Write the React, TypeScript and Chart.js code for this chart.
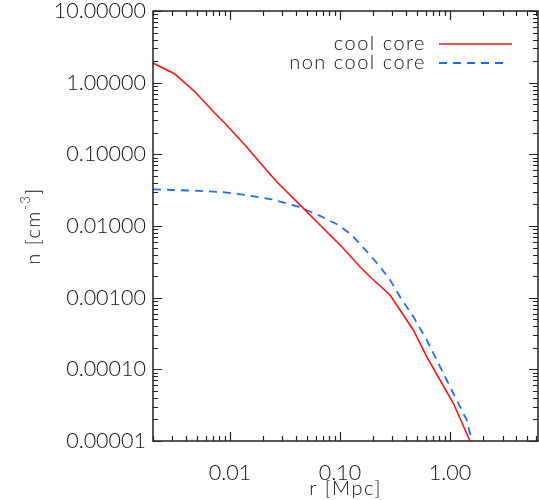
import React, { useEffect, useRef } from "react";
import { Chart, registerables } from "chart.js";

Chart.register(...registerables);

// Density profiles n(r) for the two cluster types
const radiusCool = [0.002, 0.00316, 0.00481, 0.00731, 0.00901, 0.0137, 0.0169, 0.0266, 0.0339, 0.0449, 0.0682, 0.107, 0.152, 0.1875, 0.285, 0.351, 0.464, 0.614, 0.811, 1.072, 1.52];
const densityCool = [1.88, 1.32, 0.748, 0.374, 0.271, 0.135, 0.0927, 0.0415, 0.0286, 0.0186, 0.00977, 0.00489, 0.0027, 0.00196, 0.00109, 0.000673, 0.000354, 0.00015, 0.000071, 0.0000336, 0.00001];

const radiusNonCool = [0.002, 0.00481, 0.00841, 0.0137, 0.0239, 0.0418, 0.0635, 0.0967, 0.1277, 0.1875, 0.231, 0.285, 0.351, 0.464, 0.614, 0.811, 1.072, 1.419, 1.58];
const densityNonCool = [0.0325, 0.0311, 0.0298, 0.0271, 0.0236, 0.0186, 0.01425, 0.01033, 0.0075, 0.00394, 0.0027, 0.00177, 0.00103, 0.000543, 0.000257, 0.000109, 0.0000463, 0.0000196, 0.00001];

const seriesLabels = ["cool core", "non cool core"];

const xTickValues = [0.01, 0.1, 1];
const xTickLabels = ["0.01", "0.10", "1.00"];
const yTickValues = [10, 1, 0.1, 0.01, 0.001, 0.0001, 0.00001];
const yTickLabels = ["10.00000", "1.00000", "0.10000", "0.01000", "0.00100", "0.00010", "0.00001"];

const xTitle = "r [Mpc]";
const yTitleMain = "n [cm";
const yTitleSup = "-3";
const yTitleEnd = "]";

const FONT = 'Lato, "Liberation Sans", sans-serif';
const WEIGHT = 300;
const TEXT = "#111";
const AXIS = "#222";

// Closed frame with inward major/minor ticks on all four sides, plus titles and legend
const framePlugin = {
  id: "frame",
  afterDatasetsDraw(chart: any) {
    const ctx: CanvasRenderingContext2D = chart.ctx;
    const { left, right, top, bottom } = chart.chartArea;
    const xs = chart.scales.x;
    const ys = chart.scales.y;
    ctx.save();
    ctx.strokeStyle = AXIS;
    ctx.lineWidth = 1.5;
    ctx.strokeRect(left, top, right - left, bottom - top);
    ctx.lineWidth = 1.2;
    const major = 9;
    const minor = 5;
    const eachLogTick = (min: number, max: number, fn: (v: number, isMajor: boolean) => void) => {
      for (let d = Math.floor(Math.log10(min)) - 1; d <= Math.ceil(Math.log10(max)); d++) {
        for (let k = 1; k <= 9; k++) {
          const v = k * Math.pow(10, d);
          if (v >= min * 0.999 && v <= max * 1.001) fn(v, k === 1);
        }
      }
    };
    ctx.beginPath();
    eachLogTick(xs.min, xs.max, (v, isMajor) => {
      const px = Math.round(xs.getPixelForValue(v)) + 0.5;
      const len = isMajor ? major : minor;
      ctx.moveTo(px, bottom);
      ctx.lineTo(px, bottom - len);
      ctx.moveTo(px, top);
      ctx.lineTo(px, top + len);
    });
    eachLogTick(ys.min, ys.max, (v, isMajor) => {
      const py = Math.round(ys.getPixelForValue(v)) + 0.5;
      const len = isMajor ? major : minor;
      ctx.moveTo(left, py);
      ctx.lineTo(left + len, py);
      ctx.moveTo(right, py);
      ctx.lineTo(right - len, py);
    });
    ctx.stroke();
    ctx.restore();
  },
  afterDraw(chart: any) {
    const ctx: any = chart.ctx;
    const { left, right, top, bottom } = chart.chartArea;
    ctx.save();
    ctx.fillStyle = TEXT;
    ctx.letterSpacing = "1.5px";
    const big = `${WEIGHT} 20px ${FONT}`;
    const small = `${WEIGHT} 13px ${FONT}`;

    // x title
    ctx.font = big;
    ctx.textAlign = "center";
    ctx.textBaseline = "middle";
    ctx.fillText(xTitle, (left + right) / 2, 489);

    // y title with superscript exponent
    ctx.save();
    ctx.translate(34, (top + bottom) / 2);
    ctx.rotate(-Math.PI / 2);
    ctx.textAlign = "left";
    ctx.font = big;
    const w1 = ctx.measureText(yTitleMain).width;
    ctx.font = small;
    const w2 = ctx.measureText(yTitleSup).width;
    ctx.font = big;
    const w3 = ctx.measureText(yTitleEnd).width;
    let x0 = -(w1 + w2 + w3) / 2;
    ctx.fillText(yTitleMain, x0, 0);
    x0 += w1;
    ctx.font = small;
    ctx.fillText(yTitleSup, x0, -8);
    x0 += w2;
    ctx.font = big;
    ctx.fillText(yTitleEnd, x0, 0);
    ctx.restore();

    // legend: label on the left, line sample on the right
    const rowsY = [44, 63];
    chart.data.datasets.forEach((ds: any, i: number) => {
      ctx.font = big;
      ctx.textAlign = "right";
      ctx.textBaseline = "middle";
      ctx.fillText(ds.label, 426, rowsY[i]);
      ctx.save();
      ctx.strokeStyle = ds.borderColor;
      ctx.lineWidth = ds.borderWidth;
      ctx.setLineDash(ds.borderDash || []);
      ctx.beginPath();
      ctx.moveTo(439, rowsY[i]);
      ctx.lineTo(ds.borderDash ? 508 : 512, rowsY[i]);
      ctx.stroke();
      ctx.restore();
    });
    ctx.restore();
  },
};

export default function App() {
  const canvasRef = useRef<HTMLCanvasElement | null>(null);

  useEffect(() => {
    const canvas = canvasRef.current;
    if (!canvas) return;
    const tickFont = { family: FONT, size: 21.5, weight: WEIGHT };
    const chart = new Chart(canvas, {
      type: "scatter",
      data: {
        datasets: [
          {
            label: seriesLabels[0],
            data: radiusCool.map((r, i) => ({ x: r, y: densityCool[i] })),
            showLine: true,
            borderColor: "#ff1414",
            backgroundColor: "#ff1414",
            borderWidth: 1.6,
            pointRadius: 0,
            tension: 0,
          },
          {
            label: seriesLabels[1],
            data: radiusNonCool.map((r, i) => ({ x: r, y: densityNonCool[i] })),
            showLine: true,
            borderColor: "#1a6cff",
            backgroundColor: "#1a6cff",
            borderWidth: 1.8,
            borderDash: [8, 6],
            pointRadius: 0,
            tension: 0,
          },
        ],
      },
      options: {
        animation: false,
        responsive: false,
        maintainAspectRatio: false,
        devicePixelRatio: 1,
        layout: { padding: { left: 20, top: 11, right: 1, bottom: 0 } },
        plugins: { legend: { display: false }, tooltip: { enabled: false } },
        scales: {
          x: {
            type: "logarithmic",
            position: "bottom",
            min: 0.002,
            max: 6.3,
            afterBuildTicks: (s: any) => {
              s.ticks = xTickValues.map((v) => ({ value: v }));
            },
            afterFit: (s: any) => {
              s.height = 59;
              s.paddingLeft = 0;
              s.paddingRight = 0;
            },
            ticks: {
              autoSkip: false,
              maxRotation: 0,
              minRotation: 0,
              padding: 19,
              color: TEXT,
              font: tickFont,
              callback: (v: any) => {
                const i = xTickValues.findIndex((t) => Math.abs(t - v) / t < 1e-6);
                return i >= 0 ? xTickLabels[i] : "";
              },
            },
            grid: { display: false, drawTicks: false },
            border: { display: false },
          },
          y: {
            type: "logarithmic",
            position: "left",
            min: 0.00001,
            max: 10,
            afterBuildTicks: (s: any) => {
              s.ticks = yTickValues.map((v) => ({ value: v }));
            },
            afterFit: (s: any) => {
              s.width = 133;
              s.paddingTop = 0;
              s.paddingBottom = 0;
            },
            ticks: {
              autoSkip: false,
              padding: 7,
              color: TEXT,
              font: tickFont,
              callback: (v: any) => {
                const i = yTickValues.findIndex((t) => Math.abs(t - v) / t < 1e-6);
                return i >= 0 ? yTickLabels[i] : "";
              },
            },
            grid: { display: false, drawTicks: false },
            border: { display: false },
          },
        },
      },
      plugins: [framePlugin],
    } as any);
    return () => chart.destroy();
  }, []);

  return (
    <div style={{ position: "absolute", left: 0, top: 0, width: 539, height: 500, background: "#fff" }}>
      <canvas ref={canvasRef} width={539} height={500} style={{ display: "block", width: 539, height: 500 }} />
    </div>
  );
}
